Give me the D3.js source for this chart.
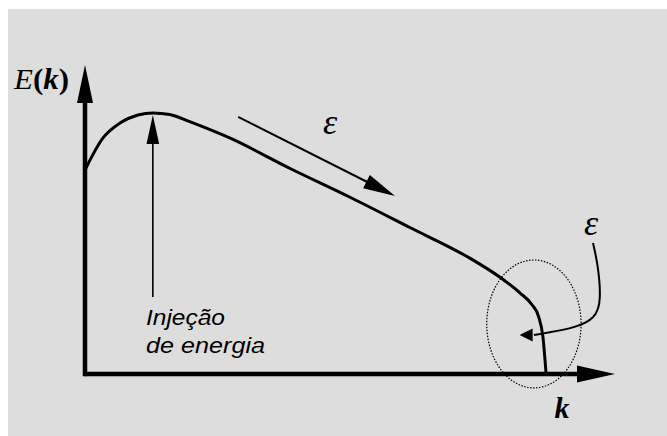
<!DOCTYPE html>
<html><head><meta charset="utf-8">
<script src="https://cdn.jsdelivr.net/npm/d3@7"></script>
<style>
html,body{margin:0;padding:0;background:#fff;}
svg{display:block;}
</style></head>
<body>
<svg id="chart" width="667" height="436"></svg>
<script>
// Energy spectrum curve E(k) (arbitrary normalized units)
const kValues = [0, 0.34, 0.66, 1.0, 1.28, 1.60, 2.0, 2.74, 3.87, 5.0, 6.13, 7.26, 7.83, 8.21, 8.43, 8.56, 8.64, 8.70];
const eValues = [6.60, 7.64, 8.12, 8.38, 8.45, 8.40, 8.15, 7.63, 6.65, 5.72, 4.74, 3.75, 3.13, 2.62, 2.25, 1.85, 1.20, 0];
// Axis extents
const kDomain = [0, 10];
const eDomain = [0, 10];
// Annotations (data units)
const injectionK = 1.28, injectionFrom = 2.49, injectionTo = 8.38;
const cascadeFrom = [2.89, 8.32], cascadeTo = [5.85, 5.76];
const dissK = [9.585, 9.68, 9.74, 9.64, 9.25, 8.68, 8.47];
const dissE = [4.24, 3.53, 2.39, 1.81, 1.49, 1.33, 1.26];
const dissTip = [8.20, 1.26];
const ellipseCenter = [8.47, 1.62], ellipseRadii = [0.89, 2.07];
const labelInjection = ["Injeção", "de energia"];

const svg = d3.select("#chart");
svg.append("rect").attr("x", 8).attr("y", 9).attr("width", 659).attr("height", 427).attr("fill", "#dddddd");

const x = d3.scaleLinear().domain(kDomain).range([85, 615]);
const y = d3.scaleLinear().domain(eDomain).range([374, 65]);

function arrowHead(tipX, tipY, angle, len, half) {
  const bx = tipX - len * Math.cos(angle), by = tipY - len * Math.sin(angle);
  const px = -Math.sin(angle) * half, py = Math.cos(angle) * half;
  return `M${tipX},${tipY}L${bx + px},${by + py}L${bx - px},${by - py}Z`;
}

// Axes
const g = svg.append("g");
g.append("line").attr("x1", x(0)).attr("x2", x(10) - 36).attr("y1", y(0)).attr("y2", y(0))
  .attr("stroke", "#000").attr("stroke-width", 4.5);
g.append("path").attr("d", arrowHead(x(10), y(0), 0, 38, 8.5)).attr("fill", "#000");
g.append("line").attr("x1", x(0)).attr("x2", x(0)).attr("y1", y(0) + 2.2).attr("y2", y(10) + 36)
  .attr("stroke", "#000").attr("stroke-width", 4.5);
g.append("path").attr("d", arrowHead(x(0), y(10), -Math.PI / 2, 38, 8)).attr("fill", "#000");

// Spectrum curve
const line = d3.line().x(d => x(d[0])).y(d => y(d[1])).curve(d3.curveMonotoneX);
svg.append("path").datum(kValues.map((k, i) => [k, eValues[i]]))
  .attr("d", line).attr("fill", "none").attr("stroke", "#000").attr("stroke-width", 3);

// Injection arrow
svg.append("line").attr("x1", x(injectionK)).attr("x2", x(injectionK))
  .attr("y1", y(injectionFrom)).attr("y2", y(injectionTo) + 25)
  .attr("stroke", "#000").attr("stroke-width", 1.6);
svg.append("path").attr("d", arrowHead(x(injectionK), y(injectionTo), -Math.PI / 2, 29, 6.3)).attr("fill", "#000");

// Cascade arrow
{
  const x1 = x(cascadeFrom[0]), y1 = y(cascadeFrom[1]), x2 = x(cascadeTo[0]), y2 = y(cascadeTo[1]);
  const a = Math.atan2(y2 - y1, x2 - x1);
  svg.append("line").attr("x1", x1).attr("y1", y1).attr("x2", x2 - 25 * Math.cos(a)).attr("y2", y2 - 25 * Math.sin(a))
    .attr("stroke", "#000").attr("stroke-width", 2);
  svg.append("path").attr("d", arrowHead(x2, y2, a, 32, 7.5)).attr("fill", "#000");
}

// Dissipation ellipse
svg.append("ellipse").attr("cx", x(ellipseCenter[0])).attr("cy", y(ellipseCenter[1]))
  .attr("rx", x(ellipseRadii[0]) - x(0)).attr("ry", y(0) - y(ellipseRadii[1]))
  .attr("fill", "none").attr("stroke", "#000").attr("stroke-width", 1.2).attr("stroke-dasharray", "1.5,1.5");

// Dissipation curved arrow
const curvedLine = d3.line().x(d => x(d[0])).y(d => y(d[1])).curve(d3.curveBasis);
svg.append("path").datum(dissK.map((k, i) => [k, dissE[i]]))
  .attr("d", curvedLine).attr("fill", "none").attr("stroke", "#000").attr("stroke-width", 2);
svg.append("path").attr("d", arrowHead(x(dissTip[0]), y(dissTip[1]), Math.PI, 13, 6.5)).attr("fill", "#000");

// Labels
const serif = "'Liberation Serif','Times New Roman',serif";
const ek = svg.append("text").attr("x", 14).attr("y", 89).attr("font-family", serif).attr("font-size", 29)
  .attr("textLength", 55).attr("lengthAdjust", "spacingAndGlyphs");
ek.append("tspan").attr("font-style", "italic").text("E");
ek.append("tspan").attr("font-weight", "bold").text("(");
ek.append("tspan").attr("font-weight", "bold").attr("font-style", "italic").text("k");
ek.append("tspan").attr("font-weight", "bold").text(")");

svg.append("text").attr("x", 562).attr("y", 418).attr("text-anchor", "middle")
  .attr("font-family", serif).attr("font-size", 30).attr("font-weight", "bold").attr("font-style", "italic").text("k");

svg.append("text").attr("x", 330).attr("y", 134).attr("text-anchor", "middle")
  .attr("font-family", serif).attr("font-size", 36).attr("font-style", "italic").text("ε");
svg.append("text").attr("x", 591).attr("y", 235).attr("text-anchor", "middle")
  .attr("font-family", serif).attr("font-size", 36).attr("font-style", "italic").text("ε");

const sans = "'Liberation Sans',Arial,sans-serif";
svg.append("text").attr("x", 146).attr("y", 325).attr("font-family", sans).attr("font-size", 21.5)
  .attr("font-style", "italic").attr("textLength", 79).attr("lengthAdjust", "spacingAndGlyphs").text(labelInjection[0]);
svg.append("text").attr("x", 146).attr("y", 353).attr("font-family", sans).attr("font-size", 21.5)
  .attr("font-style", "italic").attr("textLength", 119).attr("lengthAdjust", "spacingAndGlyphs").text(labelInjection[1]);
</script>
</body></html>
